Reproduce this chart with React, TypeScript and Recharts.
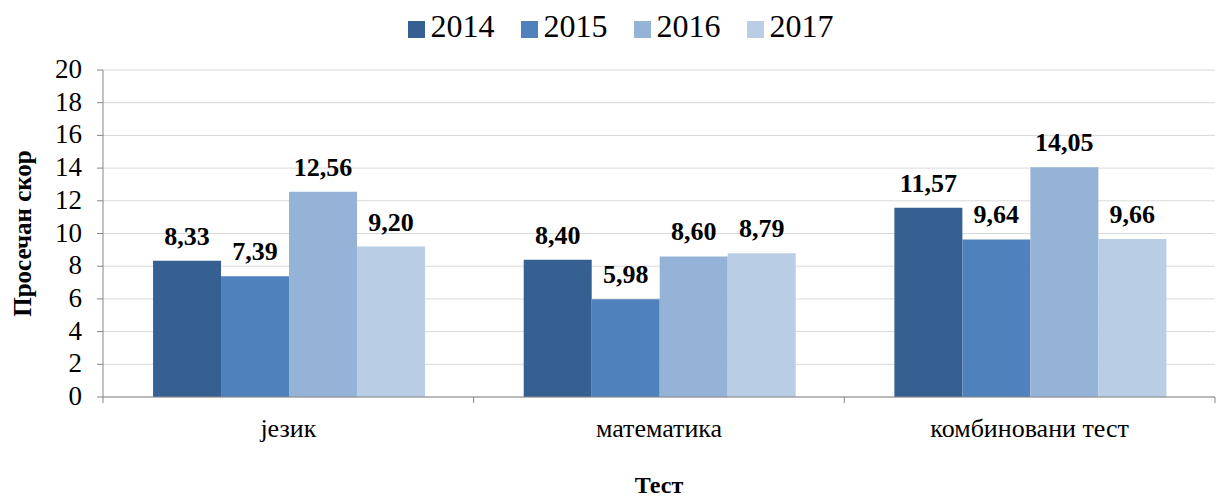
import React from 'react';
import { BarChart, Bar, XAxis, YAxis, CartesianGrid, Legend, LabelList, Label } from 'recharts';

const categories = ['језик', 'математика', 'комбиновани тест'];
const years = ['2014', '2015', '2016', '2017'];
const scores2014 = [8.33, 8.4, 11.57];
const scores2015 = [7.39, 5.98, 9.64];
const scores2016 = [12.56, 8.6, 14.05];
const scores2017 = [9.2, 8.79, 9.66];
const yTicks = [0, 2, 4, 6, 8, 10, 12, 14, 16, 18, 20];

const colors = ['#376092', '#4f81bd', '#95b3d7', '#b9cde5'];
const series = [scores2014, scores2015, scores2016, scores2017];

const data = categories.map((name, i) => {
  const row: Record<string, string | number> = { name };
  years.forEach((y, s) => {
    row[y] = series[s][i];
  });
  return row;
});

const fmt = (v: any) => Number(v).toFixed(2).replace('.', ',');
const FONT = 'Liberation Serif';

const W = 1216;
const H = 497;
const LEFT = 103;
const RIGHT = 1;

const CatTick = (props: any) => {
  const { x, y, payload, index } = props;
  const band = (W - LEFT - RIGHT) / categories.length;
  return (
    <g>
      <line x1={x - band / 2} x2={x - band / 2} y1={y - 8} y2={y - 2} stroke="#868686" />
      {index === categories.length - 1 && (
        <line x1={x + band / 2} x2={x + band / 2} y1={y - 8} y2={y - 2} stroke="#868686" />
      )}
      <text x={x} y={y + 32} textAnchor="middle" style={{ fontFamily: FONT, fontSize: 26 }} fill="#000">
        {payload.value}
      </text>
    </g>
  );
};

const ValueTick = (props: any) => {
  const { x, y, payload } = props;
  return (
    <text x={x} y={y} dy={8} textAnchor="end" style={{ fontFamily: FONT, fontSize: 27 }} fill="#000">
      {payload.value}
    </text>
  );
};

export default function App() {
  return (
    <div style={{ position: 'absolute', left: 0, top: 0, width: W, height: H, background: '#fff', fontFamily: FONT }}>
      <BarChart
        width={W}
        height={H}
        data={data}
        margin={{ top: 30, right: RIGHT, left: 0, bottom: 0 }}
        barCategoryGap="13.5%"
        barGap={0}
        style={{ fontFamily: FONT }}
      >
        <CartesianGrid vertical={false} stroke="#d9d9d9" />
        <XAxis
          dataKey="name"
          height={100}
          axisLine={{ stroke: '#868686' }}
          tickLine={false}
          tick={<CatTick />}
          interval={0}
        >
          <Label
            value="Тест"
            position="insideBottom"
            offset={4}
            style={{ fontFamily: FONT, fontSize: 24, fontWeight: 'bold', fill: '#000' }}
          />
        </XAxis>
        <YAxis
          width={LEFT}
          domain={[0, 20]}
          ticks={yTicks}
          interval={0}
          axisLine={{ stroke: '#868686' }}
          tickLine={{ stroke: '#868686' }}
          tickSize={6}
          tickMargin={15}
          tick={<ValueTick />}
        >
          <Label
            value="Просечан скор"
            angle={-90}
            position="insideLeft"
            offset={22}
            style={{ fontFamily: FONT, fontSize: 25, fontWeight: 'bold', fill: '#000', textAnchor: 'middle' }}
          />
        </YAxis>
        <Legend
          verticalAlign="top"
          align="center"
          iconType="square"
          iconSize={17}
          height={40}
          wrapperStyle={{ fontFamily: FONT, fontSize: 32, lineHeight: '34px', color: '#000', top: 9, left: 26 }}
          formatter={(v: any) => <span style={{ color: '#000', marginLeft: 2, marginRight: 16 }}>{v}</span>}
        />
        {years.map((y, s) => (
          <Bar key={y} dataKey={y} fill={colors[s]} isAnimationActive={false}>
            <LabelList
              dataKey={y}
              position="top"
              offset={16}
              formatter={fmt}
              style={{ fontFamily: FONT, fontSize: 26, fontWeight: 'bold', fill: '#000' }}
            />
          </Bar>
        ))}
      </BarChart>
    </div>
  );
}
